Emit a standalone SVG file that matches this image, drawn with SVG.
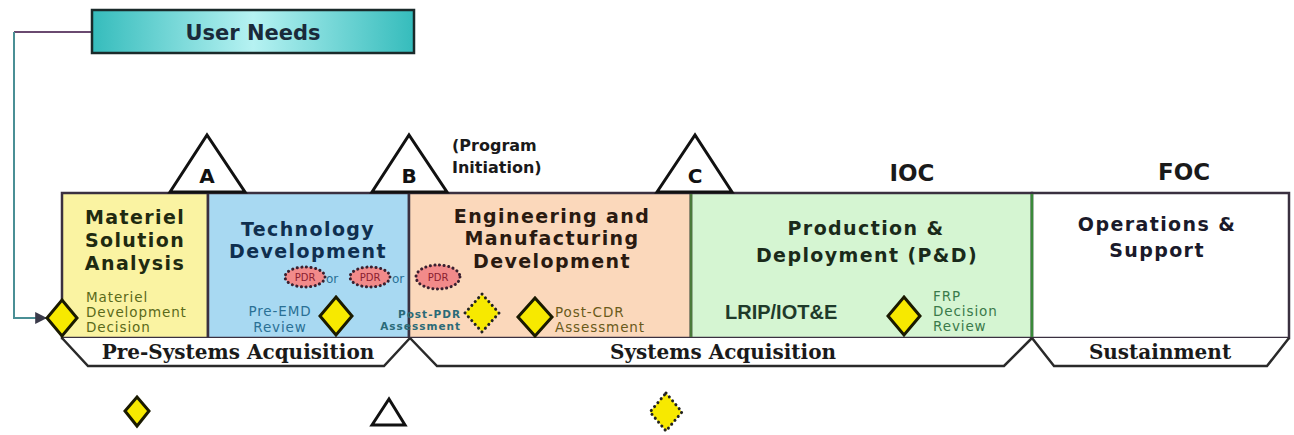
<svg xmlns="http://www.w3.org/2000/svg" width="1294" height="435" viewBox="0 0 1294 435">
<style>
.box{stroke:#3a3040;stroke-width:2.5}
.title{font-family:"DejaVu Sans",sans-serif;font-weight:bold;font-size:19px;letter-spacing:1.4px;text-anchor:middle}
.small{font-family:"DejaVu Sans",sans-serif;font-size:13.5px;letter-spacing:0.9px}
.ms{font-family:"DejaVu Sans",sans-serif;font-weight:bold;font-size:20px;text-anchor:middle;fill:#111}
.band{fill:#fff;stroke:#2a2a2a;stroke-width:2.5}
.bandtxt{font-family:"DejaVu Serif",serif;font-weight:bold;font-size:20px;text-anchor:middle;fill:#1a1a1a}
.dia{fill:#f7e900;stroke:#1a1a00;stroke-width:3}
.ddia{fill:#f7e900;stroke:#222;stroke-width:3;stroke-dasharray:0.1 5;stroke-linecap:round}
.pdr{fill:#f28a8a;stroke:#3a2030;stroke-width:3;stroke-dasharray:0.1 4.5;stroke-linecap:round}
.pdrt{font-family:"DejaVu Sans",sans-serif;font-size:10px;text-anchor:middle;fill:#8a2030}
.tri{fill:#fff;stroke:#111;stroke-width:3}
.big{font-family:"DejaVu Sans",sans-serif;font-weight:bold;font-size:23px;text-anchor:middle;fill:#1a1a1a}
.pp{font-family:"DejaVu Sans",sans-serif;font-weight:bold;font-size:10.5px;letter-spacing:1px;text-anchor:end;fill:#2a6a78}
</style>
<defs>
<linearGradient id="teal" x1="0" y1="0" x2="1" y2="0">
<stop offset="0" stop-color="#35bcbc"/>
<stop offset="0.5" stop-color="#b6f2f2"/>
<stop offset="1" stop-color="#35bcbc"/>
</linearGradient>
<marker id="arr" viewBox="0 0 10 10" refX="9" refY="5" markerWidth="6" markerHeight="6" orient="auto">
<path d="M0,0 L10,5 L0,10 z" fill="#3a3a4a"/>
</marker>
</defs>

<g id="connectors">
<path d="M92,32 L14,32" fill="none" stroke="#6a4a70" stroke-width="2"/>
<path d="M14,32 L14,318 L46,318" fill="none" stroke="#4a8f95" stroke-width="2" marker-end="url(#arr)"/>
</g>

<g id="user-needs">
<rect x="92" y="10" width="322" height="43" fill="url(#teal)" stroke="#1a2a2a" stroke-width="2.5"/>
<text x="253" y="40" font-family="DejaVu Sans,sans-serif" font-weight="bold" font-size="21" text-anchor="middle" fill="#1a2a3a">User Needs</text>
</g>

<g id="phase-msa">
<rect class="box" x="62" y="193" width="146" height="145" fill="#faf3a2"/>
<text class="title" x="135" y="224" fill="#1f2a10">Materiel</text>
<text class="title" x="135" y="247" fill="#1f2a10">Solution</text>
<text class="title" x="135" y="270" fill="#1f2a10">Analysis</text>
<text class="small" x="86" y="302" fill="#5a6a1a">Materiel</text>
<text class="small" x="86" y="317" fill="#5a6a1a">Development</text>
<text class="small" x="86" y="332" fill="#5a6a1a">Decision</text>
</g>

<g id="phase-td">
<rect class="box" x="208" y="193" width="201" height="145" fill="#a8d9f2"/>
<text class="title" x="308" y="236" fill="#0f2f4f">Technology</text>
<text class="title" x="308" y="258" fill="#0f2f4f">Development</text>
<text class="small" x="280" y="316" text-anchor="middle" fill="#2a7095">Pre-EMD</text>
<text class="small" x="280" y="332" text-anchor="middle" fill="#2a7095">Review</text>
<text x="326" y="283" font-family="DejaVu Sans,sans-serif" font-size="12" fill="#2a7095">or</text>
<text x="392" y="283" font-family="DejaVu Sans,sans-serif" font-size="12" fill="#2a7095">or</text>
</g>

<g id="phase-emd">
<rect class="box" x="409" y="193" width="282" height="145" fill="#fbd8bb"/>
<text class="title" x="552" y="223" fill="#2a1a10">Engineering and</text>
<text class="title" x="552" y="245" fill="#2a1a10">Manufacturing</text>
<text class="title" x="552" y="268" fill="#2a1a10">Development</text>
<text class="pp" x="461" y="318">Post-PDR</text>
<text class="pp" x="461" y="330">Assessment</text>
<text class="small" x="555" y="317" fill="#6a5a1a">Post-CDR</text>
<text class="small" x="555" y="332" fill="#6a5a1a">Assessment</text>
</g>

<g id="phase-pd">
<rect class="box" x="691" y="193" width="341" height="145" fill="#d5f5d2"/>
<line x1="691" y1="194" x2="691" y2="337" stroke="#4a7a3a" stroke-width="2.5"/>
<text class="title" x="866" y="235" fill="#1a2a1a">Production &amp;</text>
<text class="title" x="867" y="262" fill="#1a2a1a">Deployment (P&amp;D)</text>
<text x="725" y="319" font-family="Liberation Sans,Arial,sans-serif" font-weight="bold" font-size="20" fill="#1f3a2a">LRIP/IOT&amp;E</text>
<text class="small" x="933" y="301" fill="#3a7a4a">FRP</text>
<text class="small" x="933" y="316" fill="#3a7a4a">Decision</text>
<text class="small" x="933" y="331" fill="#3a7a4a">Review</text>
</g>

<g id="phase-os">
<rect class="box" x="1032" y="193" width="257" height="145" fill="#ffffff"/>
<line x1="1032" y1="194" x2="1032" y2="337" stroke="#3a8a3a" stroke-width="2.5"/>
<text class="title" x="1157" y="231" fill="#1a1a2a">Operations &amp;</text>
<text class="title" x="1157" y="257" fill="#1a1a2a">Support</text>
</g>

<g id="band-presys">
<path class="band" d="M62,338 L88,366 L384,366 L410,338"/>
<text class="bandtxt" x="238" y="359">Pre-Systems Acquisition</text>
</g>
<g id="band-sys">
<path class="band" d="M410,338 L437,366 L1004,366 L1032,338"/>
<text class="bandtxt" x="723" y="359">Systems Acquisition</text>
</g>
<g id="band-sust">
<path class="band" d="M1032,338 L1054,366 L1267,366 L1289,338"/>
<text class="bandtxt" x="1160" y="359">Sustainment</text>
</g>

<g id="milestone-a">
<path class="tri" d="M170,192 L207,135 L245,192 Z"/>
<text class="ms" x="207" y="183">A</text>
</g>
<g id="milestone-b">
<path class="tri" d="M372,192 L409,135 L447,192 Z"/>
<text class="ms" x="409" y="183">B</text>
<text x="452" y="151" font-family="DejaVu Sans,sans-serif" font-weight="bold" font-size="16" fill="#1a1a1a">(Program</text>
<text x="452" y="173" font-family="DejaVu Sans,sans-serif" font-weight="bold" font-size="16" fill="#1a1a1a">Initiation)</text>
</g>
<g id="milestone-c">
<path class="tri" d="M657,192 L695,135 L732,192 Z"/>
<text class="ms" x="695" y="183">C</text>
</g>
<g id="ioc"><text class="big" x="912" y="181">IOC</text></g>
<g id="foc"><text class="big" x="1184" y="180">FOC</text></g>

<g id="decision-points">
<path class="dia" d="M62,300 L77,318 L62,336 L47,318 Z"/>
<path class="dia" d="M336,297 L352,316 L336,335 L320,316 Z"/>
<path class="ddia" d="M482,294 L499,313 L482,332 L465,313 Z"/>
<path class="dia" d="M535,298 L552,317 L535,336 L518,317 Z"/>
<path class="dia" d="M904,297 L920,316 L904,335 L888,316 Z"/>
</g>

<g id="pdr-reviews">
<ellipse class="pdr" cx="305" cy="277" rx="20" ry="10"/>
<text class="pdrt" x="305" y="281">PDR</text>
<ellipse class="pdr" cx="370" cy="277" rx="20" ry="10"/>
<text class="pdrt" x="370" y="281">PDR</text>
<ellipse class="pdr" cx="438" cy="277" rx="22" ry="12"/>
<text class="pdrt" x="438" y="281">PDR</text>
</g>

<g id="legend">
<path class="dia" d="M137,397 L149,411 L137,426 L125,411 Z" stroke-width="2.5"/>
<path class="tri" d="M372,425 L389,399 L405,425 Z" stroke-width="2.5"/>
<path class="ddia" d="M666,393 L682,412 L666,431 L650,412 Z"/>
</g>
</svg>
